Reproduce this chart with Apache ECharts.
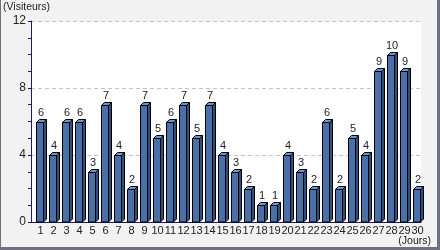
<!DOCTYPE html>
<html><head><meta charset="utf-8">
<script src="https://cdn.jsdelivr.net/npm/echarts@6/dist/echarts.min.js"></script>
<style>html,body{margin:0;padding:0;background:#f2f2f2;}#c{width:440px;height:250px;}</style>
</head><body><div id="c"></div>
<script>
var days = ['1','2','3','4','5','6','7','8','9','10','11','12','13','14','15','16','17','18','19','20','21','22','23','24','25','26','27','28','29','30'];
var visitors = [6,4,6,6,3,7,4,2,7,5,6,7,5,7,4,3,2,1,1,4,3,2,6,2,5,4,9,10,9,2];
var yTicks = [0,4,8,12];
var yTitle = '(Visiteurs)';
var xTitle = '(Jours)';

var chart = echarts.init(document.getElementById('c'), null, {renderer:'canvas'});
var FONT = 'Liberation Sans';
chart.setOption({
  animation:false,
  backgroundColor:'#f2f2f2',
  textStyle:{fontFamily:FONT},
  grid:{left:31, right:19, top:21, bottom:28, show:true, backgroundColor:'#ffffff', borderWidth:0},
  graphic:[
    {type:'rect', shape:{x:437,y:0,width:3,height:250}, style:{fill:'#707080'}, z:100},
    {type:'rect', shape:{x:0,y:247,width:440,height:3}, style:{fill:'#707080'}, z:100},
    {type:'rect', shape:{x:0,y:0,width:1,height:250}, style:{fill:'#707080'}, z:100},
    {type:'text', x:3, y:7, style:{text:yTitle, font:'10.5px "Liberation Sans"', fill:'#222', align:'left', verticalAlign:'middle'}},
    {type:'text', x:431, y:241, style:{text:xTitle, font:'10.5px "Liberation Sans"', fill:'#222', align:'right', verticalAlign:'middle'}}
  ],
  xAxis:{
    type:'category', data:days, boundaryGap:true,
    axisLine:{lineStyle:{color:'#1a1a70', width:1}},
    axisTick:{show:false},
    axisLabel:{interval:0, margin:3, fontSize:11, fontFamily:FONT, color:'#222', padding:[0,0,0,6]}
  },
  yAxis:{
    type:'value', min:yTicks[0], max:yTicks[yTicks.length-1], interval:4,
    axisLine:{show:true, lineStyle:{color:'#1a1a70', width:1}},
    axisTick:{show:true, length:3, lineStyle:{color:'#1a1a70'}},
    minorTick:{show:true, splitNumber:4, length:3, lineStyle:{color:'#1a1a70'}},
    axisLabel:{margin:5, fontSize:12, fontFamily:FONT, color:'#222'},
    splitLine:{show:true, lineStyle:{color:'#c4c4c4', type:[4,3], width:1}}
  },
  series:[{
    type:'custom',
    data: visitors.map(function(v,i){return [i, v];}),
    clip:false,
    renderItem:function(params, api){
      var c = api.coord([api.value(0), api.value(1)]);
      var b = api.coord([api.value(0), 0]);
      var cx = Math.round(c[0]), top = Math.round(c[1])+0.5, bot = Math.round(b[1]);
      var xl = cx-2+0.5, xr = cx+5+0.5, d = 3;
      var st = {stroke:'#000', lineWidth:1};
      return {type:'group', children:[
        {type:'polygon', shape:{points:[[xr,top],[xr+d,top-d],[xr+d,bot-d],[xr,bot]]}, style:Object.assign({fill:'#2f4f80'},st)},
        {type:'polygon', shape:{points:[[xl,top],[xl+d,top-d],[xr+d,top-d],[xr,top]]}, style:Object.assign({fill:'#7095cc'},st)},
        {type:'rect', shape:{x:xl, y:top, width:xr-xl, height:bot-top}, style:Object.assign({fill:'#4a70aa'},st)},
        {type:'text', x:cx+3, y:top-d-1, style:{text:String(api.value(1)), font:'11px "Liberation Sans"', fill:'#222', align:'center', verticalAlign:'bottom'}}
      ]};
    }
  }]
});
</script></body></html>
